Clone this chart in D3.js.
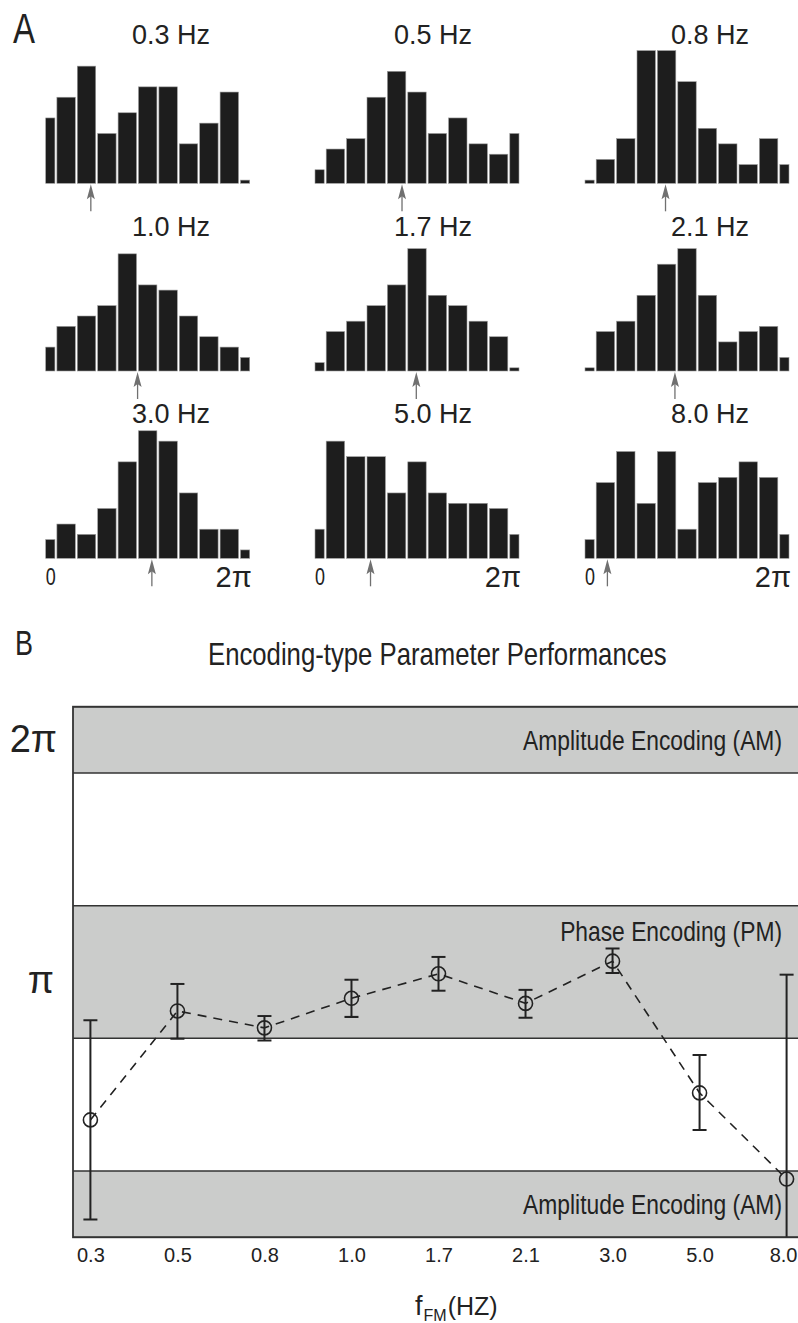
<!DOCTYPE html>
<html>
<head>
<meta charset="utf-8">
<script src="https://cdn.jsdelivr.net/npm/d3@7"></script>
<style>
body { margin: 0; background: #fff; }
text { font-family: "Liberation Sans", Arial, sans-serif; fill: #222; }
</style>
</head>
<body>
<div id="chart"></div>
<script>
var width = 798;
var height = 1323;
var PI = Math.PI;

// FM stimulus frequencies (Hz)
var freqs = ["0.3", "0.5", "0.8", "1.0", "1.7", "2.1", "3.0", "5.0", "8.0"];

// spike phase histograms: 11 bins over 0..2π (first and last bins are half bins)
var counts03 = [13, 17, 23, 10, 14, 19, 19, 8, 12, 18, 1];
var counts05 = [3, 7, 9, 17, 22, 18, 10, 13, 8, 6, 10];
var counts08 = [1, 5, 9, 26, 26, 20, 11, 8, 4, 9, 4];
var counts10 = [5, 9, 11, 13, 23, 17, 16, 11, 7, 5, 3];
var counts17 = [2, 8, 10, 13, 17, 24, 15, 13, 10, 7, 1];
var counts21 = [1, 8, 10, 15, 21, 24, 15, 6, 8, 9, 3];
var counts30 = [4, 7, 5, 10, 19, 25, 23, 13, 6, 6, 2];
var counts50 = [6, 23, 20, 20, 13, 19, 13, 11, 11, 10, 5];
var counts80 = [4, 15, 21, 11, 21, 6, 15, 16, 19, 16, 5];
var histCounts = [counts03, counts05, counts08, counts10, counts17, counts21, counts30, counts50, counts80];

// mean phase (rad) with error bar limits
var meanPhase = [1.39, 2.68, 2.48, 2.83, 3.12, 2.77, 3.27, 1.71, 0.69];
var errLow = [0.21, 2.35, 2.33, 2.61, 2.92, 2.60, 3.13, 1.27, -0.3];
var errHigh = [2.57, 3.00, 2.62, 3.05, 3.32, 2.93, 3.42, 2.16, 3.11];

// encoding regions (rad)
var bandNames = ["Amplitude Encoding (AM)", "Phase Encoding (PM)", "Amplitude Encoding (AM)"];
var bandFrom = [1.75 * PI, 0.75 * PI, 0];
var bandTo = [2 * PI, 1.25 * PI, 0.25 * PI];

var svg = d3.select("#chart")
    .append("svg")
    .attr("width", width)
    .attr("height", height);

svg.append("rect").attr("width", width).attr("height", height).attr("fill", "#fff");

// narrow text: squeeze horizontally to a given width with a transform
function narrowText(parent, str, x, y, size, w, anchor) {
    var g = parent.append("g");
    var t = g.append("text")
        .attr("font-size", size)
        .attr("text-anchor", anchor || "start")
        .text(str);
    var sx = w / t.node().getComputedTextLength();
    g.attr("transform", "translate(" + x + "," + y + ") scale(" + sx + ",1)");
    return t;
}

// ---------- A: histograms ----------
var colX = [45.7, 315, 585];
var panelW = 204;
var rowBase = [183.3, 371, 558.3];
var titleX = [171, 433, 710];
var titleY = [44, 236, 423];

var hY = d3.scaleLinear().domain([0, 26]).range([0, 134.7]);
var binW = 2 * PI / 10;

narrowText(svg, "A", 13, 43, 42, 22);

freqs.forEach(function(f, i) {
    var r = Math.floor(i / 3), c = i % 3;
    var base = rowBase[r];
    var px = d3.scaleLinear().domain([0, 2 * PI]).range([colX[c], colX[c] + panelW]);
    var g = svg.append("g");

    g.selectAll("rect")
        .data(histCounts[i])
        .enter()
        .append("rect")
        .attr("x", function(d, k) {
            var a = Math.max(0, (k - 0.5) * binW);
            return px(a) + (k > 0 ? 1 : 0);
        })
        .attr("width", function(d, k) {
            var a = Math.max(0, (k - 0.5) * binW);
            var b = Math.min(2 * PI, (k + 0.5) * binW);
            return px(b) - px(a) - (k > 0 ? 1 : 0) - (k < 10 ? 1 : 0);
        })
        .attr("y", function(d) { return base - hY(d) + 2; })
        .attr("height", function(d) { return Math.max(0, hY(d) - 2); })
        .attr("fill", "#1d1d1d")
        .attr("stroke", "#9a9a9a")
        .attr("stroke-width", 0.6);

    // mean phase arrow
    var ax = px(meanPhase[i]);
    g.append("line")
        .attr("x1", ax).attr("x2", ax)
        .attr("y1", base + 12).attr("y2", base + 28)
        .attr("stroke", "#707070")
        .attr("stroke-width", 1.3);
    g.append("path")
        .attr("d", "M" + ax + "," + (base + 1) + "L" + (ax + 4) + "," + (base + 16) +
            "L" + ax + "," + (base + 13) + "L" + (ax - 4) + "," + (base + 16) + "Z")
        .attr("fill", "#707070");

    g.append("text")
        .attr("x", titleX[c]).attr("y", titleY[r])
        .attr("text-anchor", "middle")
        .attr("font-size", 27)
        .text(f + " Hz");

    if (r === 2) {
        narrowText(g, "0", px(0), base + 27, 23, 10);
        g.append("text")
            .attr("x", px(2 * PI) + 2).attr("y", base + 29)
            .attr("text-anchor", "end")
            .attr("font-size", 29)
            .text("2π");
    }
});

// ---------- B: encoding-type summary ----------
var x = d3.scalePoint().domain(freqs).range([73, 804]).padding(0.2);
var y = d3.scaleLinear().domain([0, 2 * PI]).range([1237.3, 706.7]);

narrowText(svg, "B", 15, 655, 35, 18);
narrowText(svg, "Encoding-type Parameter Performances", 208, 665, 31, 459);

svg.append("clipPath").attr("id", "plot-clip")
    .append("rect")
    .attr("x", x.range()[0]).attr("y", y(2 * PI))
    .attr("width", x.range()[1] - x.range()[0])
    .attr("height", y(0) - y(2 * PI));

var plot = svg.append("g").attr("clip-path", "url(#plot-clip)");

bandNames.forEach(function(name, i) {
    var top = y(bandTo[i]), bot = y(bandFrom[i]);
    plot.append("rect")
        .attr("x", x.range()[0]).attr("y", top)
        .attr("width", x.range()[1] - x.range()[0])
        .attr("height", bot - top)
        .attr("fill", "#cbcccb");
    [top, bot].forEach(function(yy) {
        plot.append("line")
            .attr("x1", x.range()[0]).attr("x2", x.range()[1])
            .attr("y1", yy).attr("y2", yy)
            .attr("stroke", "#333").attr("stroke-width", 1.5);
    });
});

// dashed line through the means
var pts = freqs.map(function(f, i) { return { f: f, m: meanPhase[i], lo: errLow[i], hi: errHigh[i] }; });

plot.append("path")
    .datum(pts)
    .attr("fill", "none")
    .attr("stroke", "#222")
    .attr("stroke-width", 1.6)
    .attr("stroke-dasharray", "9,7")
    .attr("d", d3.line().x(function(d) { return x(d.f); }).y(function(d) { return y(d.m); }));

// error bars
var eb = plot.selectAll(".err").data(pts).enter().append("g").attr("class", "err")
    .attr("stroke", "#222").attr("stroke-width", 2);
eb.append("line")
    .attr("x1", function(d) { return x(d.f); }).attr("x2", function(d) { return x(d.f); })
    .attr("y1", function(d) { return y(d.lo); }).attr("y2", function(d) { return y(d.hi); });
eb.append("line")
    .attr("x1", function(d) { return x(d.f) - 7; }).attr("x2", function(d) { return x(d.f) + 7; })
    .attr("y1", function(d) { return y(d.hi); }).attr("y2", function(d) { return y(d.hi); });
eb.append("line")
    .attr("x1", function(d) { return x(d.f) - 7; }).attr("x2", function(d) { return x(d.f) + 7; })
    .attr("y1", function(d) { return y(d.lo); }).attr("y2", function(d) { return y(d.lo); });

plot.selectAll(".pt").data(pts).enter().append("circle").attr("class", "pt")
    .attr("cx", function(d) { return x(d.f); })
    .attr("cy", function(d) { return y(d.m); })
    .attr("r", 7)
    .attr("fill", "none")
    .attr("stroke", "#222")
    .attr("stroke-width", 1.6);

// region labels
bandNames.forEach(function(name, i) {
    var top = y(bandTo[i]), bot = y(bandFrom[i]);
    var h = bot - top;
    narrowText(svg, name, 782, top + (h < 100 ? 0.65 * h : 35), 27,
        name.indexOf("Phase") === 0 ? 222 : 259, "end");
});

// frame
svg.append("rect")
    .attr("x", x.range()[0]).attr("y", y(2 * PI))
    .attr("width", x.range()[1] - x.range()[0])
    .attr("height", y(0) - y(2 * PI))
    .attr("fill", "none")
    .attr("stroke", "#333")
    .attr("stroke-width", 1.8);

// x axis
var xAxis = svg.append("g")
    .attr("transform", "translate(0," + y(0) + ")")
    .call(d3.axisBottom(x).tickSize(0).tickPadding(11));
xAxis.select(".domain").remove();
xAxis.selectAll("text")
    .attr("font-size", 20)
    .attr("font-family", "Liberation Sans, Arial, sans-serif")
    .style("fill", "#222");
// keep the last label inside the page
xAxis.selectAll(".tick").filter(function(d) { return d === freqs[freqs.length - 1]; })
    .select("text")
    .attr("text-anchor", "end")
    .attr("x", function(d) { return width - 1 - x(d); });

var xl = svg.append("text").attr("x", 415).attr("y", 1315).attr("font-size", 27);
xl.append("tspan").text("f");
xl.append("tspan").attr("font-size", 16).attr("dy", 6).attr("dx", 1).text("FM");
xl.append("tspan").attr("font-size", 25).attr("dy", -6).attr("dx", 1).text("(HZ)");

// y labels
svg.append("text")
    .attr("x", 57).attr("y", y(2 * PI) + 45)
    .attr("text-anchor", "end")
    .attr("font-size", 38)
    .text("2π");
svg.append("text")
    .attr("x", 54).attr("y", y(PI) + 21)
    .attr("text-anchor", "end")
    .attr("font-size", 38)
    .text("π");
</script>
</body>
</html>
